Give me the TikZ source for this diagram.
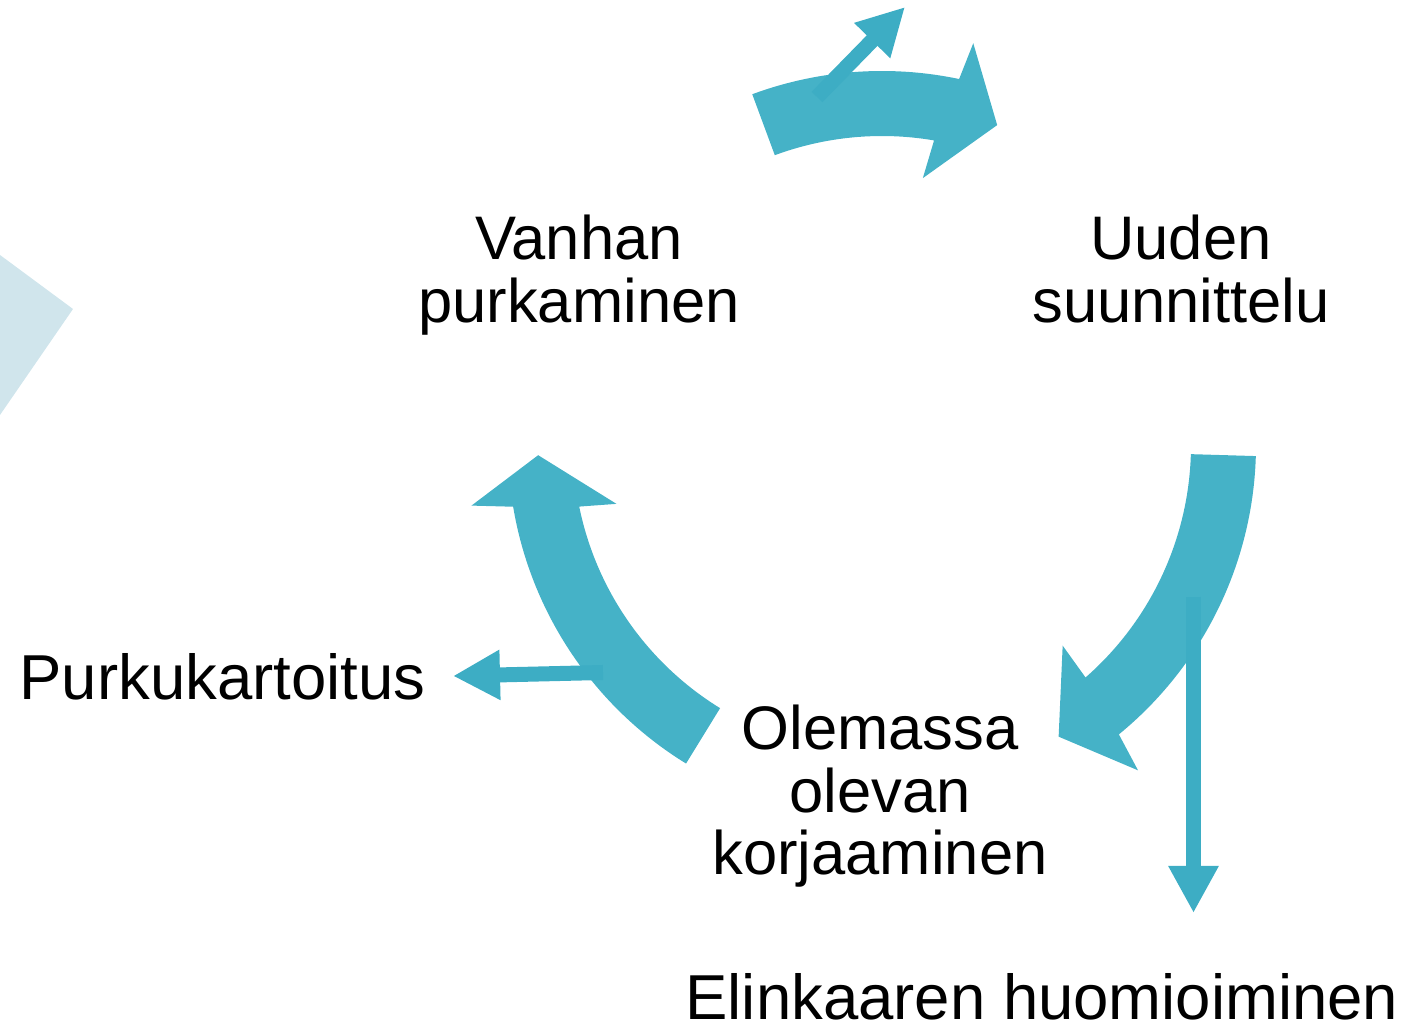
\documentclass[tikz,border=0pt]{standalone}
\usepackage{fontspec}
\setmainfont{Liberation Sans}
\usetikzlibrary{arrows.meta}
\definecolor{cyc}{HTML}{45B2C7}
\definecolor{thin}{HTML}{3DADC4}
\definecolor{pale}{HTML}{D0E5EC}
\tikzset{
  lbl/.style={inner sep=0pt, outer sep=0pt, anchor=base, align=center, text=black,
    font=\fontsize{63.5}{62.5}\selectfont},
  cyclbl/.style={lbl, font=\fontsize{61.5}{62.5}\selectfont},
  bigarrow/.style={fill=cyc, draw=none},
  thinarrow/.style={draw=thin, line width=15pt, -{Triangle[length=47pt,width=47pt]}}
}
\begin{document}
\begin{tikzpicture}[x=1pt,y=1pt]
\useasboundingbox (0,0) rectangle (1424,1028);
% pale chevron at left edge
\fill[pale] (0,773) -- (73,719) -- (0,613) -- cycle;
% thick cycle arrows
\begin{scope}[shift={(882,583)}]
  \fill[bigarrow] (110.3:374) arc[start angle=110.3, end angle=78.1, radius=374]
    -- (77.2:412) -- (70.2:340) -- (81.3:270) -- (80.3:309)
    arc[start angle=80.3, end angle=110.3, radius=309] -- cycle;
  \fill[bigarrow] (-1.7:374) arc[start angle=-1.7, end angle=-50.7, radius=374]
    -- (-51.8:414) -- (-58.8:341) -- (-48.0:270) -- (-48.8:309)
    arc[start angle=-48.8, end angle=-1.7, radius=309] -- cycle;
  \fill[bigarrow] (238.4:374) arc[start angle=238.4, end angle=189.5, radius=374]
    -- (188.4:415) -- (181.7:344) -- (192.5:272) -- (191.5:309)
    arc[start angle=191.5, end angle=238.4, radius=309] -- cycle;
\end{scope}
% labels (base anchor = baseline of the last line)
\node[cyclbl] (vanhan) at (579,705.5) {Vanhan\\purkaminen};
\node[cyclbl] (uuden) at (1181,705.5) {Uuden\\suunnittelu};
\node[cyclbl] (olemassa) at (880,153) {Olemassa\\olevan\\korjaaminen};
\node[lbl] (purku) at (222.5,328) {Purkukartoitus};
\node[lbl] (elinkaari) at (1042,9) {Elinkaaren huomioiminen};
% thin arrows
\coordinate (d0) at (817,931);
\coordinate (d1) at (905,1021);
\coordinate (h0) at (603,355.5);
\coordinate (h1) at (453,352);
\coordinate (v0) at (1193.5,431);
\coordinate (v1) at (1193.5,115);
\draw[thinarrow] (d0) -- (d1);
\draw[thinarrow] (h0) -- (h1);
\draw[thinarrow] (v0) -- (v1);
\end{tikzpicture}
\end{document}
